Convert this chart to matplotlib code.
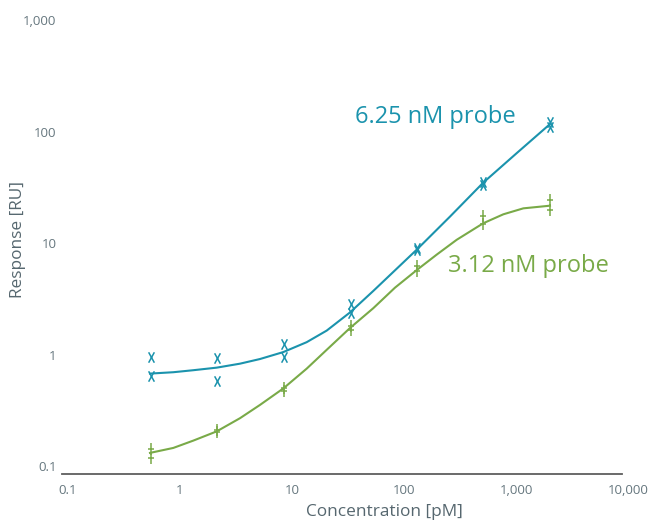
"""Dose-response of two probe concentrations on log-log axes."""
import matplotlib
matplotlib.use("Agg")
import matplotlib.pyplot as plt
from matplotlib.path import Path
from matplotlib.transforms import ScaledTranslation

plt.rcParams["font.family"] = ["Open Sans", "DejaVu Sans"]

BLUE = "#1b93ad"
GREEN = "#79aa48"
TICK_COLOR = "#66777f"
LABEL_COLOR = "#56676f"

# concentrations of the dilution series [pM]
conc = [0.62, 2.44, 9.6, 37.8, 147, 578, 2275]

# replicate responses [RU], two per concentration
resp_625_a = [1.03, 1.01, 1.36, 3.12, 9.9, 38.5, 133]
resp_625_b = [0.70, 0.63, 1.03, 2.55, 9.4, 36.0, 120]
resp_312_a = [0.153, 0.23, 0.55, 1.95, 6.8, 19.0, 26.5]
resp_312_b = [0.129, 0.22, 0.51, 1.80, 6.1, 16.0, 21.6]

# fitted curves
fit_625_x = [0.6105, 0.9857, 1.487, 2.406, 3.885, 5.86, 9.46, 15.30,
             23.09, 37.28, 60.19, 146.9, 291.2, 577.6, 1147.6, 2275]
fit_625_y = [0.734, 0.755, 0.787, 0.830, 0.901, 0.992, 1.145, 1.405,
             1.785, 2.598, 4.052, 9.50, 18.83, 38.03, 69.88, 127.4]
fit_312_x = [0.6105, 0.9857, 1.487, 2.406, 3.885, 5.86, 9.46, 15.30,
             23.09, 37.28, 60.19, 94.0, 146.9, 221.6, 334.3, 577.6,
             871.4, 1314.8, 2275]
fit_312_y = [0.1425, 0.1579, 0.1837, 0.2223, 0.2920, 0.3842, 0.5398,
             0.8130, 1.200, 1.883, 2.837, 4.335, 6.23, 8.58, 11.66,
             16.42, 19.74, 22.33, 23.59]

xticks = [0.1, 1, 10, 100, 1000, 10000]
xtick_labels = ["0.1", "1", "10", "100", "1,000", "10,000"]
yticks = [0.1, 1, 10, 100, 1000]
ytick_labels = ["0.1", "1", "10", "100", "1,000"]

# tall narrow "X" and a "+" with a long vertical stroke
x_marker = Path([(-0.55, -1), (0.55, 1), (-0.55, 1), (0.55, -1)],
                [Path.MOVETO, Path.LINETO, Path.MOVETO, Path.LINETO])
plus_marker = Path([(0, -1), (0, 1), (-0.5, 0), (0.5, 0)],
                   [Path.MOVETO, Path.LINETO, Path.MOVETO, Path.LINETO])

fig = plt.figure(figsize=(6.52, 5.22), dpi=100)
ax = fig.add_axes([62 / 652, 1 - 474 / 522, 560 / 652, 449.6 / 522])

ax.plot(fit_625_x, fit_625_y, color=BLUE, lw=1.5)
ax.plot(fit_312_x, fit_312_y, color=GREEN, lw=1.5)
for ys in (resp_625_a, resp_625_b):
    ax.plot(conc, ys, ls="none", marker=x_marker, ms=7.5, mew=1.1,
            color=BLUE)
for ys in (resp_312_a, resp_312_b):
    ax.plot(conc, ys, ls="none", marker=plus_marker, ms=8.5, mew=1.1,
            color=GREEN)

ax.text(41.3, 147, "6.25 nM probe", color=BLUE, fontsize=17,
        ha="left", va="center")
ax.text(279, 6.8, "3.12 nM probe", color=GREEN, fontsize=17,
        ha="left", va="center")

ax.set_xscale("log")
ax.set_yscale("log")
ax.set_xlim(0.1, 10000)
ax.set_ylim(10 ** (-1 - 4 / 112.4), 1000)
ax.set_xticks(xticks)
ax.set_xticklabels(xtick_labels)
ax.set_yticks(yticks)
ax.set_yticklabels(ytick_labels)
ax.minorticks_off()
ax.tick_params(length=0, labelsize=9.5, labelcolor=TICK_COLOR)
ax.tick_params(axis="x", pad=7)
ax.tick_params(axis="y", pad=4)

# nudge tick labels off the axis ends
dx = ScaledTranslation(6 / 100, 0, fig.dpi_scale_trans)
dy = ScaledTranslation(0, 4 / 100, fig.dpi_scale_trans)
for lab in ax.get_xticklabels():
    lab.set_transform(lab.get_transform() + dx)
for lab in ax.get_yticklabels():
    lab.set_transform(lab.get_transform() + dy)

for side in ("top", "right", "left"):
    ax.spines[side].set_visible(False)
ax.spines["bottom"].set_color("#5e5e5e")
ax.spines["bottom"].set_linewidth(1.3)

fig.text(384 / 652, 1 - 512 / 522, "Concentration [pM]", color=LABEL_COLOR,
         fontsize=12.4, ha="center", va="center")
fig.text(18 / 652, 1 - 240 / 522, "Response [RU]", color=LABEL_COLOR,
         fontsize=12.4, ha="center", va="center", rotation=90)

fig.savefig("out.png", dpi=100)
